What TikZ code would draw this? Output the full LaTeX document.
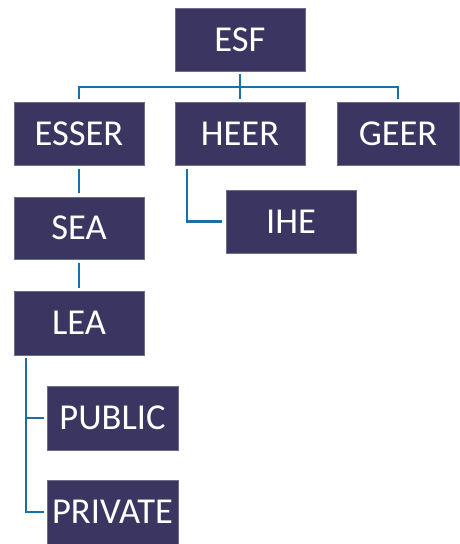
\documentclass[tikz,border=0pt]{standalone}
\usepackage{fontspec}
\setmainfont{Carlito}
\definecolor{boxfill}{HTML}{3B3561}
\definecolor{boxedge}{HTML}{6E6A8C}
\definecolor{linkblue}{HTML}{1A70A6}
\tikzset{
  orgbox/.style={rectangle, fill=boxfill, draw=boxedge, line width=0.5pt, text=white, inner sep=0pt, outer sep=0pt, font=\fontsize{36.5}{36.5}\selectfont},
  link/.style={draw=linkblue, line width=2.7pt}
}
\newcommand{\orgnode}[6]{% name, x1, y1, x2, y2, text
  \node[orgbox, minimum width={(#4-#2)*1pt}, minimum height={(#5-#3)*1pt}] (#1) at ({(#2+#4)/2*1pt},{(544-(#3+#5)/2)*1pt}) {#6};
}
\begin{document}
\begin{tikzpicture}[x=1pt,y=1pt]
\useasboundingbox (0,0) rectangle (459,544);
\orgnode{esf}{175}{8}{305}{71}{ESF}
\orgnode{esser}{14}{102}{144}{165}{ESSER}
\orgnode{heer}{175}{102}{305}{165}{HEER}
\orgnode{geer}{337}{102}{459}{165}{GEER}
\orgnode{ihe}{226}{190}{356}{253}{IHE}
\orgnode{sea}{14}{197}{144}{259}{SEA}
\orgnode{lea}{14}{291}{144}{355}{LEA}
\orgnode{public}{47}{386}{178}{450}{PUBLIC}
\orgnode{private}{47}{480}{178}{544}{PRIVATE}
% connectors
\coordinate (bar) at (240,{544-87});
\draw[link] ([yshift=-3]esf.south) -- ([yshift=3]heer.north);
\draw[link] ([yshift=3]esser.north) |- (bar) -| ([yshift=3]geer.north);
\draw[link] ([yshift=-4]esser.south) -- ([yshift=4]sea.north);
\draw[link] ([yshift=-4]sea.south) -- ([yshift=3]lea.north);
\coordinate (heerdrop) at (187,{544-169});
\draw[link] (heerdrop) |- ([xshift=-4]ihe.west);
\coordinate (leadrop) at (26,{544-358});
\draw[link] (leadrop) |- ([xshift=-3]private.west);
\draw[link] (leadrop |- public.west) -- ([xshift=-3]public.west);
\end{tikzpicture}
\end{document}
